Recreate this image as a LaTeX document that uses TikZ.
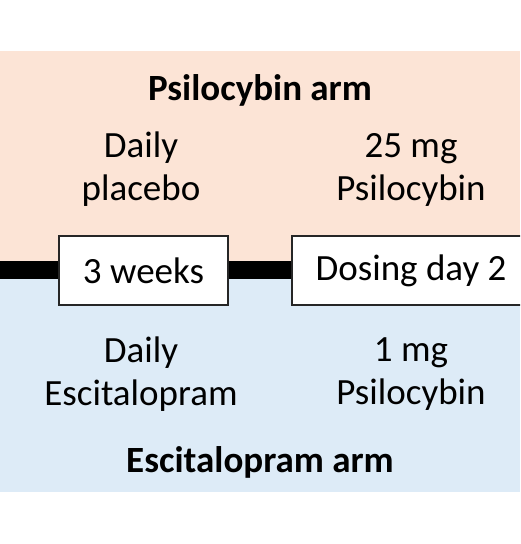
\documentclass[tikz,border=0pt]{standalone}
\usepackage{fontspec}
\setmainfont{Carlito}
\usetikzlibrary{backgrounds}
\begin{document}
\begin{tikzpicture}[x=0.5pt,y=-0.5pt,
  txt/.style={font=\fontsize{18.5}{21.5}\selectfont, align=center, inner sep=0pt},
  ttl/.style={font=\fontsize{18.5}{21.5}\selectfont\bfseries, inner sep=0pt},
  boxn/.style={draw=black!85, line width=0.75pt, fill=white, font=\fontsize{18.5}{21.5}\selectfont, inner sep=0pt}]
\useasboundingbox (0,0) rectangle (520,544);
\clip (0,0) rectangle (520,544);
\coordinate (lstart) at (0,270.5);
\node[boxn, minimum width=84.5pt, minimum height=34.5pt] (wk) at (143.5,270.5) {3 weeks};
\node[boxn, minimum width=119pt, minimum height=34.5pt] (dd) at (411,270.5) {Dosing day 2};
\node[ttl] (pt) at (260,90) {Psilocybin arm};
\node[txt] (pl) at (141,169.5) {Daily\\placebo};
\node[txt] (pr) at (411,169.5) {25 mg\\Psilocybin};
\node[txt] (el) at (141,374.5) {Daily\\Escitalopram};
\node[txt] (er) at (411,374.5) {1 mg\\Psilocybin};
\node[ttl] (et) at (260,462) {Escitalopram arm};
\begin{scope}[on background layer]
\fill[white] (0,0) rectangle (520,544);
\fill[fill={rgb,255:red,252;green,228;blue,214}] (0,51) rectangle (520,270);
\fill[fill={rgb,255:red,221;green,235;blue,247}] (0,270) rectangle (520,492);
\draw[line width=9pt, black] (lstart) -- (wk.west);
\draw[line width=9pt, black] (wk.east) -- (dd.west);
\end{scope}
\end{tikzpicture}
\end{document}
